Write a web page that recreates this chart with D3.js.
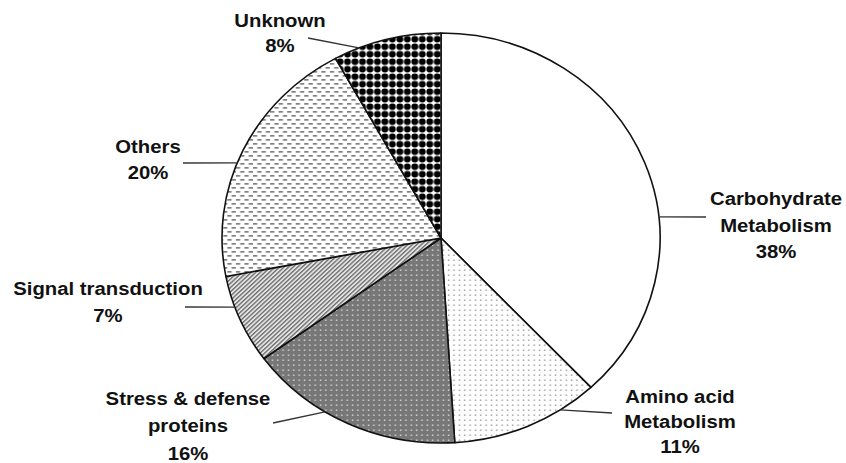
<!DOCTYPE html>
<html>
<head>
<meta charset="utf-8">
<script src="https://cdn.jsdelivr.net/npm/d3@7"></script>
<style>
  html, body { margin: 0; padding: 0; background: #fff; }
  svg { display: block; }
</style>
</head>
<body>
<svg id="chart" width="846" height="463"></svg>
<script>
// Functional categories and their shares (%)
const categories = [
  "Carbohydrate Metabolism",
  "Amino acid Metabolism",
  "Stress & defense proteins",
  "Signal transduction",
  "Others",
  "Unknown"
];
const shares = [38, 11, 16, 7, 20, 8];
const labelLines = [
  ["Carbohydrate", "Metabolism"],
  ["Amino acid", "Metabolism"],
  ["Stress & defense", "proteins"],
  ["Signal transduction"],
  ["Others"],
  ["Unknown"]
];

// ---- layout ----
const cx = 441, cy = 238, rx = 219, ry = 205;
const textStretch = 1.07;
// leader anchor angle on the rim (deg, clockwise from 12 o'clock), leader end, label centre x, baselines
const labelLayout = [
  { anchor: 84.1,  end: [706, 217], x: 776, base: [205, 232, 258] },
  { anchor: 147,   end: [612, 413], x: 680, base: [403, 428, 453] },
  { anchor: 212,   end: [273, 423], x: 188, base: [405, 432, 460] },
  { anchor: 250.3, end: [185, 307], x: 108, base: [295, 322] },
  { anchor: 291.5, end: [183, 163], x: 148, base: [153, 179] },
  { anchor: 338,   end: [308, 38],  x: 280, base: [27, 52] }
];

const svg = d3.select("#chart");
const defs = svg.append("defs");

// ---- fill patterns ----
// light dotted (amino acid)
const pAmino = defs.append("pattern").attr("id", "p-amino")
  .attr("patternUnits", "userSpaceOnUse").attr("width", 5).attr("height", 5);
pAmino.append("rect").attr("width", 5).attr("height", 5).attr("fill", "#fff");
pAmino.append("rect").attr("x", 1.5).attr("y", 1.5).attr("width", 1.4).attr("height", 1.4).attr("fill", "#9a9a9a");

// dark grey with white dots (stress)
const pStress = defs.append("pattern").attr("id", "p-stress")
  .attr("patternUnits", "userSpaceOnUse").attr("width", 5).attr("height", 5);
pStress.append("rect").attr("width", 5).attr("height", 5).attr("fill", "#777");
pStress.append("rect").attr("x", 1.5).attr("y", 1.5).attr("width", 1.4).attr("height", 1.4).attr("fill", "#d8d8d8");

// diagonal hatch (signal)
const pSignal = defs.append("pattern").attr("id", "p-signal")
  .attr("patternUnits", "userSpaceOnUse").attr("width", 3).attr("height", 3)
  .attr("patternTransform", "rotate(45)");
pSignal.append("rect").attr("width", 3).attr("height", 3).attr("fill", "#e4e4e4");
pSignal.append("rect").attr("width", 1.3).attr("height", 3).attr("fill", "#6e6e6e");

// staggered dashes (others)
const pOthers = defs.append("pattern").attr("id", "p-others")
  .attr("patternUnits", "userSpaceOnUse").attr("width", 8).attr("height", 8);
pOthers.append("rect").attr("width", 8).attr("height", 8).attr("fill", "#fff");
pOthers.append("rect").attr("x", 0).attr("y", 1).attr("width", 4).attr("height", 1.7).attr("fill", "#808080");
pOthers.append("rect").attr("x", 4).attr("y", 5).attr("width", 4).attr("height", 1.7).attr("fill", "#808080");

// black dot grid (unknown)
const pUnknown = defs.append("pattern").attr("id", "p-unknown")
  .attr("patternUnits", "userSpaceOnUse").attr("width", 7).attr("height", 7.5);
pUnknown.append("rect").attr("width", 7).attr("height", 7.5).attr("fill", "#fff");
pUnknown.append("circle").attr("cx", 3.5).attr("cy", 3.75).attr("r", 3.2).attr("fill", "#000");

const sliceFills = ["#fff", "url(#p-amino)", "url(#p-stress)", "url(#p-signal)", "url(#p-others)", "url(#p-unknown)"];

// ---- pie ----
const pie = d3.pie().sort(null).value(d => d)(shares);
const arc = d3.arc().innerRadius(0).outerRadius(ry);

const pieG = svg.append("g")
  .attr("transform", `translate(${cx},${cy}) scale(${rx / ry},1)`);

pieG.selectAll("path.slice")
  .data(pie)
  .join("path")
  .attr("class", "slice")
  .attr("d", arc)
  .attr("fill", (d, i) => sliceFills[i])
  .attr("stroke", "#111")
  .attr("stroke-width", 1.6)
  .attr("stroke-linejoin", "round")
  .attr("vector-effect", "non-scaling-stroke");

// ---- leader lines ----
function rimPoint(deg) {
  const a = deg * Math.PI / 180;
  return [cx + rx * Math.sin(a), cy - ry * Math.cos(a)];
}

svg.append("g").selectAll("line")
  .data(labelLayout)
  .join("line")
  .attr("x1", d => rimPoint(d.anchor)[0])
  .attr("y1", d => rimPoint(d.anchor)[1])
  .attr("x2", d => d.end[0])
  .attr("y2", d => d.end[1])
  .attr("stroke", "#333")
  .attr("stroke-width", 1.3);

// ---- labels ----
const labelG = svg.append("g")
  .attr("font-family", "'Liberation Sans', Arial, sans-serif")
  .attr("font-weight", "bold")
  .attr("font-size", 19)
  .attr("fill", "#111")
  .attr("text-anchor", "middle");

categories.forEach((c, i) => {
  const lines = labelLines[i].concat([shares[i] + "%"]);
  const lay = labelLayout[i];
  lines.forEach((t, j) => {
    labelG.append("text")
      .attr("transform", `translate(${lay.x},${lay.base[j]}) scale(${textStretch},1)`)
      .text(t);
  });
});
</script>
</body>
</html>
